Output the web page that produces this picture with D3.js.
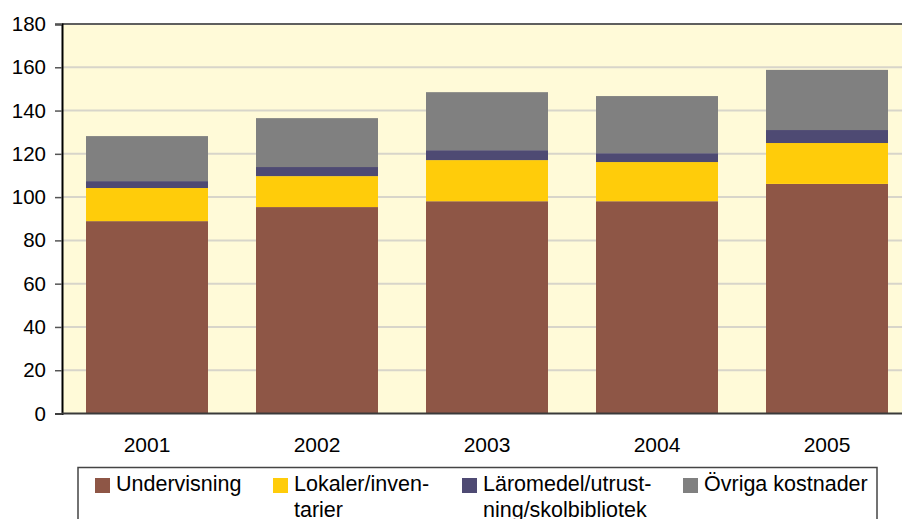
<!DOCTYPE html>
<html>
<head>
<meta charset="utf-8">
<script src="https://cdn.jsdelivr.net/npm/d3@7/dist/d3.min.js"></script>
<style>
  html, body { margin: 0; padding: 0; background: #ffffff; }
  svg { display: block; }
  text { font-family: "Liberation Sans", Arial, sans-serif; fill: #000; }
</style>
</head>
<body>
<svg id="chart" width="902" height="519"></svg>
<script>
// ---- data ----
const years = ["2001", "2002", "2003", "2004", "2005"];
const seriesNames = ["Undervisning", "Lokaler/inven-\ntarier", "Läromedel/utrust-\nning/skolbibliotek", "Övriga kostnader"];
const undervisning = [88.9, 95.4, 98.1, 98.1, 106.1];
const lokaler      = [15.3, 14.3, 19.0, 18.1, 18.9];
const laromedel    = [3.2, 4.2, 4.6, 4.1, 6.0];
const ovriga       = [20.8, 22.6, 26.8, 26.4, 27.8];
const yTicks = [0, 20, 40, 60, 80, 100, 120, 140, 160, 180];

// ---- style ----
const colors = ["#8E5646", "#FFCC0A", "#4E4A73", "#808080"];
const keys = ["u", "l", "m", "o"];

const rows = years.map((yr, i) => ({year: yr, u: undervisning[i], l: lokaler[i], m: laromedel[i], o: ovriga[i]}));
const stacked = d3.stack().keys(keys)(rows);

const svg = d3.select("#chart");
const pLeft = 62, pRight = 912, pTop = 24, pBottom = 413.5;

const x = d3.scaleBand().domain(years).range([pLeft, pRight])
  .paddingInner(48 / 170).paddingOuter(24 / 170);
const y = d3.scaleLinear().domain([0, 180]).range([pBottom, pTop]);

// plot background
svg.append("rect").attr("x", pLeft).attr("y", pTop).attr("width", pRight - pLeft).attr("height", pBottom - pTop)
  .attr("fill", "#FFFAD8");

// gridlines
svg.append("g").selectAll("line").data(yTicks.filter(t => t > 0 && t < 180)).join("line")
  .attr("x1", pLeft).attr("x2", pRight)
  .attr("y1", d => y(d)).attr("y2", d => y(d))
  .attr("stroke", "#D8D5CA").attr("stroke-width", 2);

// bars
svg.append("g").selectAll("g").data(stacked).join("g")
  .attr("fill", (d, i) => colors[i])
  .selectAll("rect").data(d => d).join("rect")
  .attr("x", d => x(d.data.year))
  .attr("width", x.bandwidth())
  .attr("y", d => y(d[1]))
  .attr("height", d => y(d[0]) - y(d[1]));

// top border
svg.append("line").attr("x1", pLeft).attr("x2", pRight).attr("y1", pTop).attr("y2", pTop)
  .attr("stroke", "#5f5f5f").attr("stroke-width", 2);

// y axis
const yAxis = d3.axisLeft(y).tickValues(yTicks).tickSize(7).tickPadding(10);
const gy = svg.append("g").attr("transform", `translate(${pLeft},0)`).call(yAxis);
gy.select(".domain").attr("stroke", "#000").attr("stroke-width", 2);
gy.selectAll(".tick line").attr("stroke", "#555").attr("stroke-width", 1.5);
gy.selectAll(".tick text").attr("font-size", 20.5).attr("font-family", "Liberation Sans, Arial, sans-serif")
  .attr("fill", "#000").attr("x", -16);

// x axis
const xAxis = d3.axisBottom(x).tickSize(0).tickPadding(24);
const gx = svg.append("g").attr("transform", `translate(0,${pBottom})`).call(xAxis);
gx.select(".domain").attr("stroke", "#3a3a3a").attr("stroke-width", 2)
  .attr("d", `M${pLeft},0H${pRight}`);
gx.selectAll(".tick text").attr("font-size", 21).attr("font-family", "Liberation Sans, Arial, sans-serif")
  .attr("fill", "#000");

// legend
svg.append("rect").attr("x", 78).attr("y", 467.5).attr("width", 799).attr("height", 80)
  .attr("fill", "#fff").attr("stroke", "#444").attr("stroke-width", 1.5);
const legendX = [95, 273, 462, 683];
const lg = svg.append("g").selectAll("g").data(seriesNames).join("g")
  .attr("transform", (d, i) => `translate(${legendX[i]},478)`);
lg.append("rect").attr("width", 15).attr("height", 15).attr("fill", (d, i) => colors[i]);
lg.append("text").attr("x", 21).attr("y", 12.5).attr("font-size", 21.5)
  .selectAll("tspan").data(d => d.split("\n")).join("tspan")
  .attr("x", 21).attr("dy", (d, i) => i === 0 ? 0 : 26.5).text(d => d);
</script>
</body>
</html>
